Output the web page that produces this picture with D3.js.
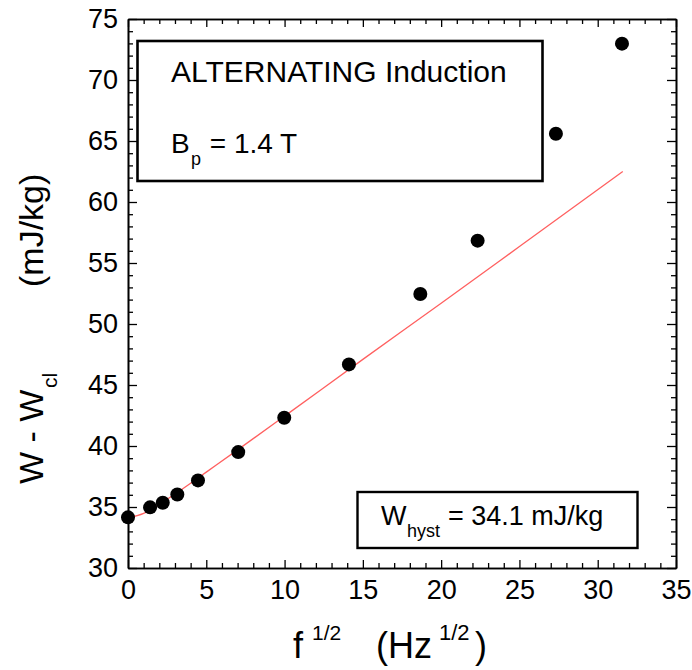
<!DOCTYPE html>
<html><head><meta charset="utf-8">
<script src="https://cdn.jsdelivr.net/npm/d3@7"></script>
<style>
body{margin:0;background:#fff;}
svg{display:block;font-family:"Liberation Sans",Arial,sans-serif;}
</style></head>
<body><svg id="c" width="692" height="670"></svg>
<script>
// data
const sqrtF = [0, 1.41, 2.22, 3.15, 4.47, 7.04, 9.98, 14.11, 18.67, 22.33, 27.33, 31.55];
const wMinusWcl = [34.15, 34.97, 35.35, 36.03, 37.18, 39.5, 42.32, 46.69, 52.46, 56.83, 65.6, 72.98];
const fitX = [0, 1, 2, 3, 4, 5, 7, 10, 15, 20, 25, 31.6];
const fitY = [34.1, 34.47, 35.21, 36.06, 36.95, 37.86, 39.68, 42.45, 47.1, 51.7, 56.35, 62.5];
const xTicks = [0, 5, 10, 15, 20, 25, 30, 35];
const yTicks = [30, 35, 40, 45, 50, 55, 60, 65, 70, 75];

const L = 128, T = 19, R = 676, B = 568;
const svg = d3.select("#c");
const x = d3.scaleLinear().domain([0, 35]).range([L, R]);
const y = d3.scaleLinear().domain([30, 75]).range([B, T]);
const xMinor = d3.range(0, 36, 1).filter(v => v % 5 !== 0);
const yMinor = d3.range(30, 76, 1).filter(v => v % 5 !== 0);

function styleAxis(g){
  g.select(".domain").attr("stroke","#000").attr("stroke-width",1.6);
  g.selectAll(".tick line").attr("stroke","#000").attr("stroke-width",1.3);
  g.selectAll("text").attr("fill","#000").attr("font-size",27).attr("font-family","Liberation Sans, Arial, sans-serif");
}
// bottom
svg.append("g").attr("transform",`translate(0,${B})`)
  .call(d3.axisBottom(x).tickValues(xTicks).tickSize(-8).tickSizeOuter(0).tickPadding(12).tickFormat(d3.format("d"))).call(styleAxis);
svg.append("g").attr("transform",`translate(0,${B})`)
  .call(d3.axisBottom(x).tickValues(xMinor).tickSize(-5).tickSizeOuter(0).tickFormat("")).call(styleAxis);
// top
svg.append("g").attr("transform",`translate(0,${T})`)
  .call(d3.axisTop(x).tickValues(xTicks).tickSize(-8).tickSizeOuter(0).tickFormat("")).call(styleAxis);
svg.append("g").attr("transform",`translate(0,${T})`)
  .call(d3.axisTop(x).tickValues(xMinor).tickSize(-5).tickSizeOuter(0).tickFormat("")).call(styleAxis);
// left
svg.append("g").attr("transform",`translate(${L},0)`)
  .call(d3.axisLeft(y).tickValues(yTicks).tickSize(-9).tickSizeOuter(0).tickPadding(10).tickFormat(d3.format("d"))).call(styleAxis);
svg.append("g").attr("transform",`translate(${L},0)`)
  .call(d3.axisLeft(y).tickValues(yMinor).tickSize(-5).tickSizeOuter(0).tickFormat("")).call(styleAxis);
// right
svg.append("g").attr("transform",`translate(${R},0)`)
  .call(d3.axisRight(y).tickValues(yTicks).tickSize(-9).tickSizeOuter(0).tickFormat("")).call(styleAxis);
svg.append("g").attr("transform",`translate(${R},0)`)
  .call(d3.axisRight(y).tickValues(yMinor).tickSize(-5).tickSizeOuter(0).tickFormat("")).call(styleAxis);

// fit line
const fit = fitX.map((v,i)=>[v, fitY[i]]);
svg.append("path").datum(fit)
  .attr("d", d3.line().x(d=>x(d[0])).y(d=>y(d[1])).curve(d3.curveMonotoneX))
  .attr("fill","none").attr("stroke","#ff6060").attr("stroke-width",1.3);

// points
svg.append("g").selectAll("circle").data(sqrtF.map((v,i)=>[v, wMinusWcl[i]])).join("circle")
  .attr("cx",d=>x(d[0])).attr("cy",d=>y(d[1])).attr("r",7).attr("fill","#000");

// box 1
svg.append("rect").attr("x",137.5).attr("y",41).attr("width",405).attr("height",140)
  .attr("fill","#fff").attr("stroke","#000").attr("stroke-width",2.6);
svg.append("text").attr("x",171).attr("y",82).attr("font-size",30).attr("fill","#000").text("ALTERNATING Induction");
const bp = svg.append("text").attr("x",171).attr("y",153).attr("font-size",28).attr("fill","#000");
bp.append("tspan").text("B");
bp.append("tspan").attr("font-size",18).attr("x",191).attr("y",165).text("p");
bp.append("tspan").attr("x",202).attr("y",153).text(" = 1.4 T");

// box 2
svg.append("rect").attr("x",357.5).attr("y",492).attr("width",280).attr("height",56)
  .attr("fill","#fff").attr("stroke","#000").attr("stroke-width",2.4);
const wh = svg.append("text").attr("x",381).attr("y",525).attr("font-size",27).attr("fill","#000");
wh.append("tspan").text("W");
wh.append("tspan").attr("font-size",18).attr("x",407).attr("y",537).text("hyst");
wh.append("tspan").attr("x",448).attr("y",525).text("= 34.1 mJ/kg");

// x title
const xt = svg.append("text").attr("y",658).attr("font-size",36).attr("fill","#000");
xt.append("tspan").attr("x",293).text("f");
xt.append("tspan").attr("x",312).attr("y",640).attr("font-size",21).text("1/2");
xt.append("tspan").attr("x",376).attr("y",658).text("(Hz");
xt.append("tspan").attr("x",439).attr("y",640).attr("font-size",22).text("1/2");
xt.append("tspan").attr("x",475).attr("y",658).text(")");

// y title
const yt = svg.append("g").attr("transform","translate(43,0) rotate(-90)");
const yt1 = yt.append("text").attr("font-size",34).attr("fill","#000");
yt1.append("tspan").attr("x",-484).attr("y",0).text("W - W");
yt1.append("tspan").attr("x",-388).attr("y",14).attr("font-size",21).text("cl");
yt.append("text").attr("font-size",34).attr("fill","#000").attr("x",-287).attr("y",0).text("(mJ/kg)");
</script>
</body></html>
